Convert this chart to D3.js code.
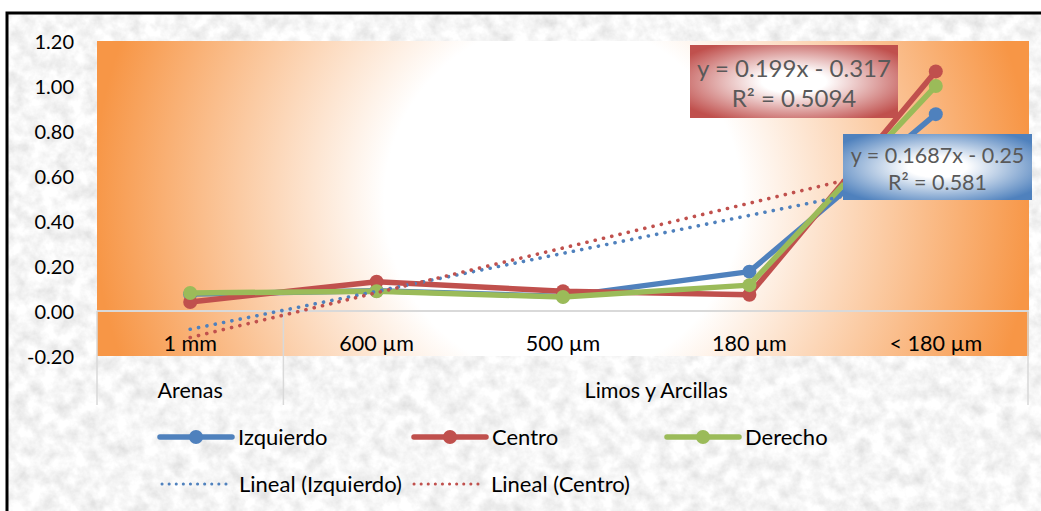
<!DOCTYPE html>
<html>
<head>
<meta charset="utf-8">
<script src="https://cdn.jsdelivr.net/npm/d3@7"></script>
<style>
  html, body { margin: 0; padding: 0; background: #ffffff; }
  svg { display: block; font-family: "Lato", "Open Sans", sans-serif; }
</style>
</head>
<body>
<svg id="chart" width="1041" height="511"></svg>
<script>
// Particle-size categories and their grouping
const categories = ["1 mm", "600 µm", "500 µm", "180 µm", "< 180 µm"];
const groups = [
  { label: "Arenas", from: 0, to: 0 },
  { label: "Limos y Arcillas", from: 1, to: 4 }
];

// Series values (fraction passing) for each sampling position
const izquierdo = [0.075, 0.09, 0.065, 0.175, 0.875];
const centro    = [0.040, 0.13, 0.088, 0.072, 1.065];
const derecho   = [0.080, 0.088, 0.062, 0.115, 1.000];

// Linear trendline fits: [slope, intercept, R²]
const trendIzquierdo = [0.1687, -0.25, 0.581];
const trendCentro    = [0.199, -0.317, 0.5094];

const yTicks = [-0.2, 0, 0.2, 0.4, 0.6, 0.8, 1.0, 1.2];

const colors = { izq: "#4F81BD", cen: "#C0504D", der: "#9BBB59", orange: "#F79646" };

const svg = d3.select("#chart");
const W = 1041, H = 511;
const plot = { left: 97, right: 1029, top: 41, bottom: 356 };

const defs = svg.append("defs");

// Granite-like background texture
const tex = defs.append("filter").attr("id", "granite")
  .attr("x", 0).attr("y", 0).attr("width", "100%").attr("height", "100%");
tex.append("feTurbulence").attr("type", "fractalNoise")
  .attr("baseFrequency", "0.07").attr("numOctaves", 4).attr("seed", 7).attr("result", "n");
tex.append("feColorMatrix").attr("in", "n").attr("type", "matrix")
  .attr("values", "0.42 0 0 0 0.71  0.42 0 0 0 0.71  0.42 0 0 0 0.71  0 0 0 0 1");

// Plot-area fill: white centre fading to orange at the sides
const pg = defs.append("radialGradient").attr("id", "plotFill")
  .attr("gradientUnits", "userSpaceOnUse")
  .attr("cx", 563).attr("cy", 200).attr("r", 470);
pg.append("stop").attr("offset", "0").attr("stop-color", "#ffffff");
pg.append("stop").attr("offset", "0.38").attr("stop-color", "#ffffff");
pg.append("stop").attr("offset", "1").attr("stop-color", colors.orange);

// Label box fills
function boxGradient(id, c) {
  const g = defs.append("radialGradient").attr("id", id)
    .attr("cx", "0.5").attr("cy", "0.5").attr("r", "0.62");
  g.append("stop").attr("offset", "0").attr("stop-color", "#ffffff");
  g.append("stop").attr("offset", "0.25").attr("stop-color", "#ffffff");
  g.append("stop").attr("offset", "1").attr("stop-color", c);
}
boxGradient("boxRed", colors.cen);
boxGradient("boxBlue", colors.izq);

// Chart background and frame
svg.append("rect").attr("x", 7).attr("y", 13).attr("width", W - 7).attr("height", H - 13)
  .attr("filter", "url(#granite)");
svg.append("path").attr("d", `M7,${H} V13 H${W}`)
  .attr("fill", "none").attr("stroke", "#000").attr("stroke-width", 3);

// Scales
const x = d3.scaleBand().domain(d3.range(categories.length))
  .range([plot.left, plot.right]).paddingInner(0).paddingOuter(0);
const xc = i => x(i) + x.bandwidth() / 2;
const xLin = d3.scaleLinear().domain([1, 5]).range([xc(0), xc(4)]);
const y = d3.scaleLinear().domain([-0.2, 1.2]).range([plot.bottom, plot.top]);

svg.append("rect")
  .attr("x", plot.left).attr("y", y(1.2))
  .attr("width", plot.right - plot.left).attr("height", y(-0.2) - y(1.2))
  .attr("fill", "url(#plotFill)");

// Y axis labels (plain hyphen for negatives)
const fmt = d => d.toFixed(2);
const yAxis = d3.axisLeft(y).tickValues(yTicks).tickFormat(fmt).tickSize(0).tickPadding(0);
const yg = svg.append("g").attr("transform", `translate(74,0)`).call(yAxis);
yg.select(".domain").remove();
yg.selectAll("text").attr("font-size", 20).attr("fill", "#000").attr("font-family", "Lato, sans-serif")
  .attr("dy", "0.35em");

// Category axis at zero, with group separators
const axisCol = "#D9D9D9";
svg.append("line").attr("x1", plot.left).attr("x2", plot.right)
  .attr("y1", y(0)).attr("y2", y(0)).attr("stroke", axisCol).attr("stroke-width", 2);
const sepIdx = [0, 1];
sepIdx.forEach(i => {
  svg.append("line").attr("x1", x(i)).attr("x2", x(i))
    .attr("y1", y(0)).attr("y2", 405).attr("stroke", axisCol).attr("stroke-width", 1.5);
});
svg.append("line").attr("x1", plot.right - 1).attr("x2", plot.right - 1)
  .attr("y1", y(0)).attr("y2", 405).attr("stroke", axisCol).attr("stroke-width", 1.5);

const xAxis = d3.axisBottom(x).tickFormat(i => categories[i]).tickSize(0).tickPadding(0);
const xg = svg.append("g").attr("transform", `translate(0,343)`).call(xAxis);
xg.select(".domain").remove();
xg.selectAll("text").attr("font-size", 21.5).attr("fill", "#000").attr("font-family", "Lato, sans-serif")
  .attr("dy", "0.35em").attr("y", 0);

svg.append("g").selectAll("text").data(groups).join("text")
  .attr("x", g => (x(g.from) + x(g.to) + x.bandwidth()) / 2)
  .attr("y", 390).attr("dy", "0.35em").attr("text-anchor", "middle")
  .attr("font-size", 21.5).attr("fill", "#000")
  .text(g => g.label);

// Data series
const line = d3.line().x((d, i) => xc(i)).y(d => y(d));
const series = [
  { name: "Izquierdo", values: izquierdo, color: colors.izq },
  { name: "Centro", values: centro, color: colors.cen },
  { name: "Derecho", values: derecho, color: colors.der }
];
const sg = svg.append("g");
series.forEach(s => {
  sg.append("path").datum(s.values).attr("d", line)
    .attr("fill", "none").attr("stroke", s.color).attr("stroke-width", 5.5)
    .attr("stroke-linejoin", "round");
  sg.selectAll(null).data(s.values).join("circle")
    .attr("cx", (d, i) => xc(i)).attr("cy", d => y(d)).attr("r", 7)
    .attr("fill", s.color);
});

// Linear trendlines
const trends = [
  { name: "Lineal (Izquierdo)", fit: trendIzquierdo, color: colors.izq },
  { name: "Lineal (Centro)", fit: trendCentro, color: colors.cen }
];
trends.forEach(t => {
  const [m, b] = t.fit;
  svg.append("line")
    .attr("x1", xLin(1)).attr("y1", y(m * 1 + b))
    .attr("x2", xLin(5)).attr("y2", y(m * 5 + b))
    .attr("stroke", t.color).attr("stroke-width", 3.6)
    .attr("stroke-linecap", "round").attr("stroke-dasharray", "0.1 8.4");
});

// Trendline equation labels
function eqLabel(fit, box, fillId, size) {
  const [m, b, r2] = fit;
  const g = svg.append("g");
  g.append("rect").attr("x", box.x).attr("y", box.y).attr("width", box.w).attr("height", box.h)
    .attr("fill", `url(#${fillId})`);
  const cx = box.x + box.w / 2;
  const sign = b < 0 ? "-" : "+";
  g.append("text").attr("x", cx).attr("y", box.y + box.h * 0.33).attr("dy", "0.35em")
    .attr("text-anchor", "middle").attr("font-size", size).attr("fill", "#595959")
    .text(`y = ${m}x ${sign} ${Math.abs(b)}`);
  g.append("text").attr("x", cx).attr("y", box.y + box.h * 0.74).attr("dy", "0.35em")
    .attr("text-anchor", "middle").attr("font-size", size).attr("fill", "#595959")
    .text(`R² = ${r2}`);
}
eqLabel(trendCentro, { x: 690, y: 45, w: 208, h: 73 }, "boxRed", 24);
eqLabel(trendIzquierdo, { x: 843, y: 134, w: 189, h: 66 }, "boxBlue", 21.5);

// Legend
const leg = svg.append("g");
const row1 = 437, row2 = 484;
const legSeries = [
  { s: series[0], x0: 160 },
  { s: series[1], x0: 414 },
  { s: series[2], x0: 667 }
];
legSeries.forEach(({ s, x0 }) => {
  leg.append("line").attr("x1", x0).attr("x2", x0 + 72).attr("y1", row1).attr("y2", row1)
    .attr("stroke", s.color).attr("stroke-width", 5.5).attr("stroke-linecap", "round");
  leg.append("circle").attr("cx", x0 + 36).attr("cy", row1).attr("r", 7).attr("fill", s.color);
  leg.append("text").attr("x", x0 + 78).attr("y", row1).attr("dy", "0.35em")
    .attr("font-size", 22).attr("fill", "#000").text(s.name);
});
const legTrends = [{ t: trends[0], x0: 162 }, { t: trends[1], x0: 414 }];
legTrends.forEach(({ t, x0 }) => {
  leg.append("line").attr("x1", x0).attr("x2", x0 + 64).attr("y1", row2).attr("y2", row2)
    .attr("stroke", t.color).attr("stroke-width", 3)
    .attr("stroke-linecap", "round").attr("stroke-dasharray", "0.1 7");
  leg.append("text").attr("x", x0 + 77).attr("y", row2).attr("dy", "0.35em")
    .attr("font-size", 22).attr("fill", "#000").text(t.name);
});
</script>
</body>
</html>
